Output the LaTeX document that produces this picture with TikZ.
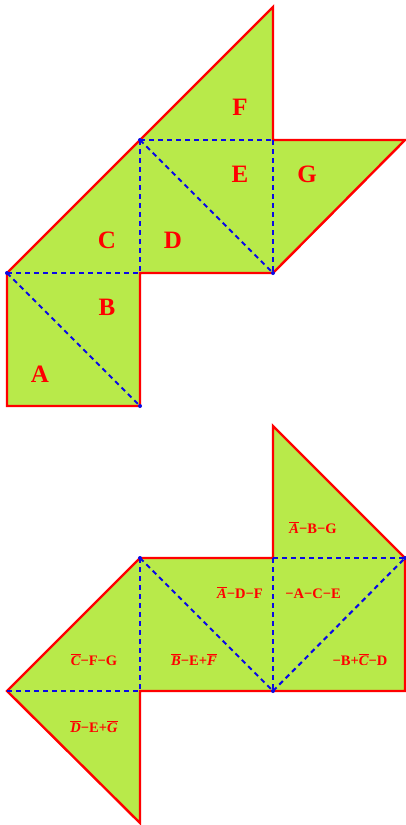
\documentclass[tikz,border=0pt]{standalone}
\usepackage{fontspec}
\setmainfont{Liberation Serif}
\definecolor{leaf}{RGB}{184,234,74}
\definecolor{netred}{RGB}{255,0,0}
\definecolor{foldblue}{RGB}{10,10,230}
\newcommand{\ob}[1]{$\overline{\mbox{\textbf{\textit{#1}}}}$}
\begin{document}
\begin{tikzpicture}[x=1pt,y=-1pt,
  outline/.style={draw=netred, line width=2.4pt, line join=miter},
  fold/.style={draw=foldblue, line width=2.1pt, dash pattern=on 5pt off 4pt},
  big/.style={text=netred, anchor=base, inner sep=0pt, font=\bfseries\fontsize{25}{25}\selectfont},
  small/.style={text=netred, anchor=base, inner sep=0pt, font=\bfseries\fontsize{14.5}{14.5}\selectfont},
  vdot/.style={fill=foldblue, circle, inner sep=0pt, minimum size=4pt}]
\useasboundingbox (0,0) rectangle (405,825);
% ---------- top net ----------
\coordinate (a1) at (7,406);
\coordinate (a2) at (7,273);
\coordinate (p) at (140,140);
\coordinate (ft) at (273,7);
\coordinate (q) at (273,140);
\coordinate (gr) at (405,140);
\coordinate (r) at (273,273);
\coordinate (s) at (140,273);
\coordinate (t) at (140,406);
\fill[leaf] (a1) -- (a2) -- (p) -- (ft) -- (q) -- (gr) -- (r) -- (s) -- (t) -- cycle;
\draw[outline] (a1) -- (a2) -- (p) -- (ft) -- (q) -- (gr) -- (r) -- (s) -- (t) -- cycle;
\draw[fold] (a2) -- (t);
\draw[fold] (a2) -- (s);
\draw[fold] (p) -- (s);
\draw[fold] (p) -- (r);
\draw[fold] (p) -- (q);
\draw[fold] (q) -- (r);
\node[vdot] (d1) at (a2) {};
\node[vdot] (d2) at (p) {};
\node[vdot] (d3) at (r) {};
\node[vdot] (d4) at (t) {};
\node[big] (lf) at (240,115) {F};
\node[big] (le) at (240,182) {E};
\node[big] (lg) at (307,182) {G};
\node[big] (lc) at (107,248) {C};
\node[big] (ld) at (173,248) {D};
\node[big] (lb) at (107,315) {B};
\node[big] (la) at (40,382) {A};
% ---------- bottom net ----------
\coordinate (b1) at (7,691);
\coordinate (b2) at (140,558);
\coordinate (b3) at (273,558);
\coordinate (b4) at (273,426);
\coordinate (b5) at (405,558);
\coordinate (b6) at (405,691);
\coordinate (b7) at (273,691);
\coordinate (b8) at (140,691);
\coordinate (b9) at (140,823);
\fill[leaf] (b1) -- (b2) -- (b3) -- (b4) -- (b5) -- (b6) -- (b8) -- (b9) -- cycle;
\draw[outline] (b1) -- (b2) -- (b3) -- (b4) -- (b5) -- (b6) -- (b8) -- (b9) -- cycle;
\draw[fold] (b1) -- (b8);
\draw[fold] (b2) -- (b8);
\draw[fold] (b2) -- (b7);
\draw[fold] (b3) -- (b7);
\draw[fold] (b3) -- (b5);
\draw[fold] (b7) -- (b5);
\node[vdot] (e1) at (b2) {};
\node[vdot] (e2) at (b7) {};
\node[vdot] (e3) at (b5) {};
\node[small] (m1) at (313,533) {\ob{A}−B−G};
\node[small] (m2) at (240,598) {\ob{A}−D−F};
\node[small] (m3) at (313,598) {−A−C−E};
\node[small] (m4) at (94,665) {\ob{C}−F−G};
\node[small] (m5) at (194,665) {\ob{B}−E+\ob{F}};
\node[small] (m6) at (360,665) {−B+\ob{C}−D};
\node[small] (m7) at (94,732) {\ob{D}−E+\ob{G}};
\end{tikzpicture}
\end{document}
